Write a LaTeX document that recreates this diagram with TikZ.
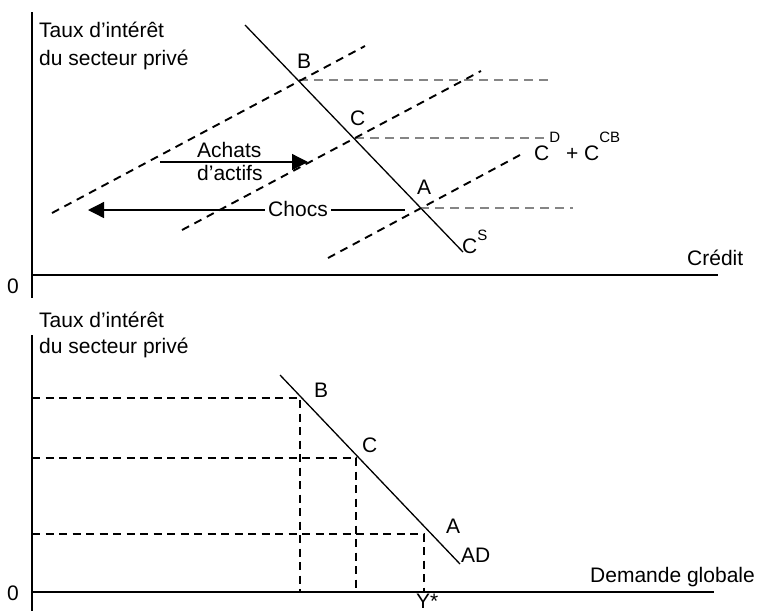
\documentclass[tikz,border=0pt]{standalone}
\usepackage{fontspec}
\setmainfont{Liberation Sans}
\usetikzlibrary{arrows.meta}
\newcommand\mysup[2]{\raisebox{#1}{\fontsize{15}{15}\selectfont #2}}
\tikzset{
  txt/.style={inner sep=0pt, anchor=base west, font=\fontsize{21}{24}\selectfont},
  axisline/.style={line width=1.3pt, black},
  curve/.style={line width=1.3pt, black},
  blackdash/.style={line width=1.9pt, black, dash pattern=on 8pt off 6pt},
  greydash/.style={line width=1.7pt, black!48, dash pattern=on 9pt off 6pt},
  guide/.style={line width=1.8pt, black, dash pattern=on 8pt off 5.5pt},
  shiftarrow/.style={line width=1.3pt, -{Triangle[length=16pt,width=16pt]}},
}
\begin{document}
\begin{tikzpicture}[x=1pt,y=-1pt]
\useasboundingbox (0,0) rectangle (759,611);
% ---------- top panel ----------
\coordinate (t1top) at (32,12);
\coordinate (t1bot) at (32,298);
\coordinate (t1o) at (32,275);
\coordinate (t1end) at (718,275);
\draw[axisline] (t1top) -- (t1bot);
\draw[axisline] (t1o) -- (t1end);
\node[txt] (zero1) at (7,293) {0};
\node[txt] (ylab1a) at (39,37) {Taux d’intérêt};
\node[txt] (ylab1b) at (39,65) {du secteur privé};
\node[txt] (xlab1) at (687,265) {Crédit};
% supply curve
\coordinate (cs1) at (245,25);
\coordinate (cs2) at (463,252);
\draw[curve] (cs1) -- (cs2);
\coordinate (B1) at (299,80);
\coordinate (C1) at (355,138);
\coordinate (A1) at (420,208);
\coordinate (gB) at (548,80);
\coordinate (gC) at (550,138);
\coordinate (gA) at (573,208);
\draw[greydash] (B1) -- (gB);
\draw[greydash] (C1) -- (gC);
\draw[greydash] (A1) -- (gA);
% demand curves
\coordinate (d1a) at (52,213);
\coordinate (d1b) at (365,46);
\coordinate (d2a) at (182,230);
\coordinate (d2b) at (481,71);
\coordinate (d3a) at (328,258);
\coordinate (d3b) at (520,155);
\draw[blackdash] (d1a) -- (d1b);
\draw[blackdash] (d2a) -- (d2b);
\draw[blackdash] (d3a) -- (d3b);
\node[txt] (lB1) at (297,68) {B};
\node[txt] (lC1) at (350,125) {C};
\node[txt] (lA1) at (417,194) {A};
\node[txt] (lCS) at (462,253) {C\mysup{13pt}{S}};
\node[txt] (lCD) at (534,160) {C\mysup{18pt}{D} + C\mysup{18pt}{CB}};
% arrows
\coordinate (ach1) at (160,162);
\coordinate (ach2) at (308,162);
\draw[shiftarrow] (ach1) -- (ach2);
\node[txt] (achA) at (197,157) {Achats};
\node[txt] (achB) at (197,180) {d’actifs};
\coordinate (ch1) at (405,210);
\coordinate (ch2) at (88,210);
\draw[shiftarrow] (ch1) -- (ch2);
\node[fill=white, inner xsep=3.5pt, inner ysep=1pt, font=\fontsize{21}{24}\selectfont] (chocs) at (298,209) {Chocs};
% ---------- bottom panel ----------
\coordinate (t2top) at (32,335);
\coordinate (t2bot) at (32,611);
\coordinate (t2o) at (32,592);
\coordinate (t2end) at (714,592);
\draw[axisline] (t2top) -- (t2bot);
\draw[axisline] (t2o) -- (t2end);
\node[txt] (zero2) at (7,600) {0};
\node[txt] (ylab2a) at (39,327) {Taux d’intérêt};
\node[txt] (ylab2b) at (39,353) {du secteur privé};
\node[txt] (xlab2) at (590,582) {Demande globale};
\coordinate (ad1) at (280,375);
\coordinate (ad2) at (460,564);
\draw[curve] (ad1) -- (ad2);
\coordinate (B2) at (300,398);
\coordinate (C2) at (356,458);
\coordinate (A2) at (424,534);
\coordinate (hB) at (32,398);
\coordinate (hC) at (32,458);
\coordinate (hA) at (32,534);
\coordinate (vB) at (300,592);
\coordinate (vC) at (356,592);
\coordinate (vA) at (424,592);
\draw[guide] (hB) -- (B2) -- (vB);
\draw[guide] (hC) -- (C2) -- (vC);
\draw[guide] (hA) -- (A2) -- (vA);
\node[txt] (lB2) at (314,397) {B};
\node[txt] (lC2) at (362,452) {C};
\node[txt] (lA2) at (446,533) {A};
\node[txt] (lAD) at (461,562) {AD};
\node[txt] (lY) at (416,608) {Y*};
\end{tikzpicture}
\end{document}
